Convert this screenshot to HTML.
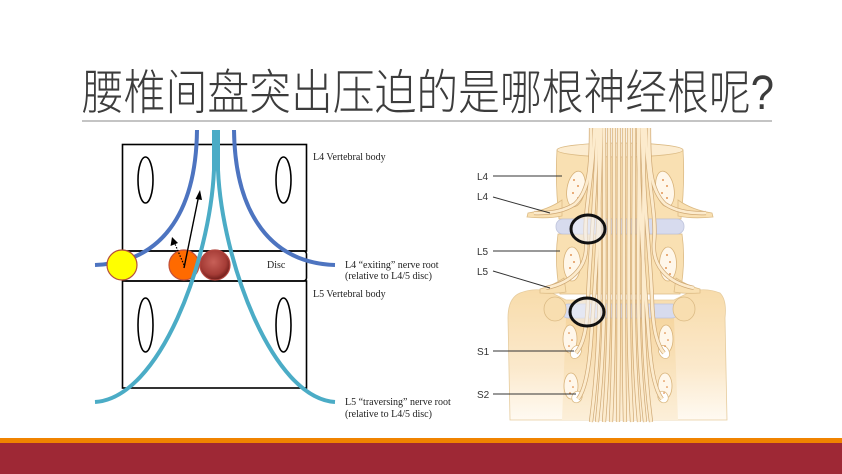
<!DOCTYPE html>
<html><head><meta charset="utf-8"><style>
html,body{margin:0;padding:0;background:#fff;}
svg{display:block;}
</style></head><body>
<svg width="842" height="474" viewBox="0 0 842 474" xmlns="http://www.w3.org/2000/svg">
<defs>
<radialGradient id="brown" cx="0.45" cy="0.4" r="0.6">
<stop offset="0" stop-color="#c86058"/><stop offset="0.7" stop-color="#a53c36"/><stop offset="1" stop-color="#6e1d1a"/>
</radialGradient>
<linearGradient id="sac" x1="0" y1="0" x2="0" y2="1">
<stop offset="0" stop-color="#f8dcab"/><stop offset="0.6" stop-color="#fbe9cc"/><stop offset="1" stop-color="#fffaf2"/>
</linearGradient>
<linearGradient id="sac2" x1="0" y1="0" x2="0" y2="1">
<stop offset="0" stop-color="#f6d6a0"/><stop offset="1" stop-color="#fcefd9"/>
</linearGradient>
<g id="nerves" fill="none">
<path d="M599,128 C599,260 603,330 591,422"/>
<path d="M604,128 C604,260 607,330 597,422"/>
<path d="M609,128 C609,260 611,330 604,422"/>
<path d="M614,128 C614,260 615,330 611,422"/>
<path d="M619,128 C619,260 619,330 618,422"/>
<path d="M624,128 C624,260 623,330 625,422"/>
<path d="M629,128 C629,260 627,330 632,422"/>
<path d="M634,128 C634,260 631,330 639,422"/>
<path d="M639,128 C639,260 635,330 645,422"/>
<path d="M644,128 C644,260 639,330 651,422"/>
<path d="M591,128 C591,165 590,190 575,204 Q560,214 534,213"/>
<path d="M594.5,128 C593,180 583,215 586,242 C588,264 575,282 546,288"/>
<path d="M597,128 C596,200 589,262 588,300 C587,330 583,345 576,353"/>
<path d="M601,128 C600,220 594,300 591,340 C589,370 585,390 578,399"/>
<path d="M649,128 C649,165 650,190 665,204 Q680,214 706,213"/>
<path d="M645.5,128 C647,180 657,215 654,242 C652,264 665,282 694,288"/>
<path d="M642,128 C643,200 651,262 652,300 C653,330 657,345 664,353"/>
<path d="M638,128 C639,220 646,300 649,340 C651,370 655,390 662,399"/>
</g>
</defs>

<!-- Title -->
<text x="82" y="109" font-family="'Liberation Sans','Noto Sans CJK SC',sans-serif" font-size="48" font-weight="300" fill="#3c3c3c" textLength="692" lengthAdjust="spacingAndGlyphs">腰椎间盘突出压迫的是哪根神经根呢?</text>
<line x1="82" y1="121" x2="772" y2="121" stroke="#8a8a8a" stroke-width="1"/>

<!-- Left diagram -->
<g fill="none" stroke="#000" stroke-width="1.6">
<rect x="122.5" y="144.5" width="184" height="106.5"/>
<rect x="122.5" y="251" width="184" height="30" rx="3"/>
<rect x="122.5" y="281" width="184" height="107"/>
<ellipse cx="145.5" cy="180" rx="7.5" ry="23"/>
<ellipse cx="283.5" cy="180" rx="7.5" ry="23"/>
<ellipse cx="145.5" cy="325" rx="7.5" ry="27"/>
<ellipse cx="283.5" cy="325" rx="7.5" ry="27"/>
</g>
<g fill="none" stroke="#4d74c0" stroke-width="4" stroke-linecap="butt">
<path d="M197,130 C196,215 160,263 95,265"/>
<path d="M234,130 C235,215 272,263 335,265"/>
</g>
<circle cx="122" cy="265" r="15" fill="#ffff00" stroke="#b5503c" stroke-width="1.2"/>
<circle cx="184" cy="265" r="15" fill="#ff6a00" stroke="#c0503c" stroke-width="1.2"/>
<circle cx="215" cy="265" r="15" fill="url(#brown)" stroke="#b2453e" stroke-width="1.2"/>
<g fill="none" stroke="#4bacc6" stroke-width="4">
<path d="M214,130 L214,170 C210,260 160,398 95,402"/>
<path d="M218,130 L218,170 C222,260 272,398 335,402"/>
</g>
<!-- arrows -->
<line x1="184" y1="268" x2="198.5" y2="197" stroke="#000" stroke-width="1.4"/>
<polygon points="200,190 195.5,199 202,200" fill="#000"/>
<line x1="184" y1="265" x2="175" y2="244" stroke="#000" stroke-width="1.2" stroke-dasharray="1.5,1.5"/>
<polygon points="172,237 170.5,246 178,243" fill="#000"/>
<!-- left labels -->
<g font-family="'Liberation Serif',serif" font-size="10" fill="#222">
<text x="313" y="160">L4 Vertebral body</text>
<text x="267" y="268">Disc</text>
<text x="345" y="268">L4 “exiting” nerve root</text>
<text x="345" y="279">(relative to L4/5 disc)</text>
<text x="313" y="297">L5 Vertebral body</text>
<text x="345" y="405">L5 “traversing” nerve root</text>
<text x="345" y="417">(relative to L4/5 disc)</text>
</g>

<!-- Right illustration -->
<g stroke="#dcbb85" stroke-width="0.8">
<path d="M510,420 L508,318 Q508,298 520,293 Q535,287 550,292 L566,300 L674,300 L690,292 Q705,287 720,293 Q727,300 725,318 L727,420 Z" fill="url(#sac)" stroke="#e6cc9e"/>
<path d="M566,318 L674,318 L678,420 L562,420 Z" fill="url(#sac2)" stroke="none"/>
<!-- L5 body -->
<path d="M558,234 Q554,262 560,294 L680,294 Q686,262 682,234 Z" fill="#f9e0b2"/>
<!-- L4 body -->
<path d="M557,150 Q555,182 559,219 L681,219 Q685,182 683,150 Z" fill="#f9e0b2"/>
<ellipse cx="620" cy="150" rx="63" ry="7" fill="#fcecd0"/>
<!-- discs -->
<rect x="556" y="219" width="128" height="15" rx="7" fill="#d7dbee" stroke="#bfc4dc"/>
<rect x="562" y="304" width="116" height="14" rx="6" fill="#d7dbee" stroke="#bfc4dc"/>
<!-- wings -->
<path d="M562,200 Q548,210 528,213 L527,217 Q548,219 562,216 Z" fill="#f9e0b2"/>
<path d="M678,200 Q692,210 712,213 L713,217 Q692,219 678,216 Z" fill="#f9e0b2"/>
<path d="M564,278 Q552,286 540,289 L540,293 Q555,294 566,292 Z" fill="#f9e0b2"/>
<path d="M676,278 Q688,286 700,289 L700,293 Q685,294 674,292 Z" fill="#f9e0b2"/>
<!-- sacral joints -->
<ellipse cx="555" cy="309" rx="11" ry="12" fill="#f8deb0"/>
<ellipse cx="684" cy="309" rx="11" ry="12" fill="#f8deb0"/>
<!-- pedicle ovals -->
<g fill="#fff7ea" stroke="#d8b37a">
<ellipse cx="576" cy="189" rx="9" ry="18" transform="rotate(10 576 189)"/>
<ellipse cx="665" cy="189" rx="9" ry="18" transform="rotate(-10 665 189)"/>
<ellipse cx="572" cy="264" rx="8.5" ry="17"/>
<ellipse cx="668" cy="264" rx="8.5" ry="17"/>
<ellipse cx="570" cy="339" rx="7" ry="14"/>
<ellipse cx="666" cy="339" rx="7" ry="14"/>
<ellipse cx="571" cy="386" rx="7" ry="13"/>
<ellipse cx="665" cy="386" rx="7" ry="13"/>
</g>
<ellipse cx="576" cy="352" rx="5" ry="7" fill="#fff" transform="rotate(30 576 352)"/>
<ellipse cx="664" cy="352" rx="5" ry="7" fill="#fff" transform="rotate(-30 664 352)"/>
<ellipse cx="577" cy="397" rx="5" ry="6" fill="#fff" transform="rotate(30 577 397)"/>
<ellipse cx="663" cy="397" rx="5" ry="6" fill="#fff" transform="rotate(-30 663 397)"/>
</g>
<!-- dots -->
<g fill="#d9782a">
<circle cx="574" cy="180" r="0.9"/><circle cx="578" cy="186" r="0.9"/><circle cx="573" cy="193" r="0.9"/><circle cx="578" cy="198" r="0.9"/><circle cx="575" cy="204" r="0.8"/>
<circle cx="663" cy="180" r="0.9"/><circle cx="667" cy="186" r="0.9"/><circle cx="662" cy="193" r="0.9"/><circle cx="667" cy="198" r="0.9"/><circle cx="665" cy="204" r="0.8"/>
<circle cx="571" cy="255" r="0.9"/><circle cx="574" cy="262" r="0.9"/><circle cx="570" cy="268" r="0.9"/><circle cx="574" cy="274" r="0.9"/>
<circle cx="667" cy="255" r="0.9"/><circle cx="670" cy="262" r="0.9"/><circle cx="666" cy="268" r="0.9"/><circle cx="670" cy="274" r="0.9"/>
<circle cx="569" cy="333" r="0.8"/><circle cx="572" cy="340" r="0.8"/><circle cx="569" cy="346" r="0.8"/>
<circle cx="665" cy="333" r="0.8"/><circle cx="668" cy="340" r="0.8"/><circle cx="665" cy="346" r="0.8"/>
<circle cx="570" cy="381" r="0.8"/><circle cx="573" cy="387" r="0.8"/><circle cx="570" cy="393" r="0.8"/>
<circle cx="664" cy="381" r="0.8"/><circle cx="667" cy="387" r="0.8"/><circle cx="664" cy="393" r="0.8"/>
</g>
<!-- nerves -->
<use href="#nerves" stroke="#cfa874" stroke-width="4.2"/>
<use href="#nerves" stroke="#fcebcd" stroke-width="2.8"/>
<!-- circled regions -->
<ellipse cx="588" cy="229" rx="17" ry="14" fill="#eef0f8" fill-opacity="0.55" stroke="#111" stroke-width="3"/>
<ellipse cx="587" cy="312" rx="17" ry="14" fill="#eef0f8" fill-opacity="0.55" stroke="#111" stroke-width="3"/>
<!-- leader lines -->
<g stroke="#333" stroke-width="1">
<line x1="493" y1="176" x2="562" y2="176"/>
<line x1="493" y1="197" x2="550" y2="213"/>
<line x1="493" y1="251" x2="560" y2="251"/>
<line x1="493" y1="271" x2="550" y2="288"/>
<line x1="493" y1="351" x2="574" y2="351"/>
<line x1="493" y1="394" x2="576" y2="394"/>
</g>
<g font-family="'Liberation Sans',sans-serif" font-size="10" fill="#333">
<text x="477" y="180">L4</text>
<text x="477" y="200">L4</text>
<text x="477" y="255">L5</text>
<text x="477" y="275">L5</text>
<text x="477" y="355">S1</text>
<text x="477" y="398">S2</text>
</g>

<!-- bottom bands -->
<rect x="0" y="438" width="842" height="5" fill="#f08300"/>
<rect x="0" y="443" width="842" height="31" fill="#9e2835"/>
</svg>
</body></html>
